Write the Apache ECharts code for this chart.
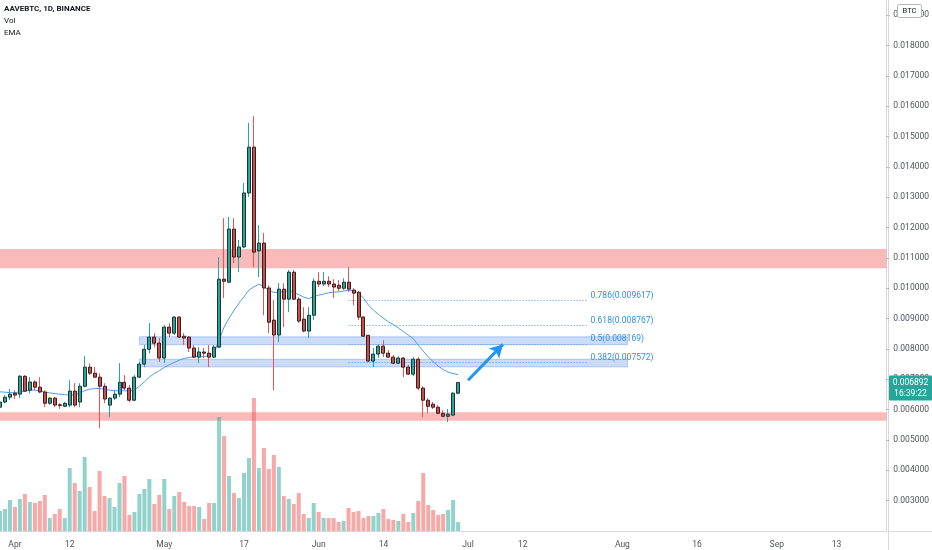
<!DOCTYPE html>
<html><head><meta charset="utf-8">
<script src="https://cdn.jsdelivr.net/npm/echarts@6/dist/echarts.min.js"></script>
<style>html,body{margin:0;padding:0;background:#fff}#c{width:932px;height:550px}</style>
</head><body><div id="c"></div>
<script>
// ---- data ----
const startDate = [2021, 2, 29];   // 2021-03-29, first day on the time axis
const dayCount = 179;               // days shown on the time axis (to 2021-09-23)
const tickDates = ['2021-04-01','2021-04-12','2021-05-01','2021-05-17','2021-06-01','2021-06-14',
                   '2021-07-01','2021-07-12','2021-08-01','2021-08-16','2021-09-01','2021-09-13'];
const monthNames = ['Jan','Feb','Mar','Apr','May','Jun','Jul','Aug','Sep','Oct','Nov','Dec'];

const openP = [0.00608,0.00625,0.00641,0.00654,0.00651,0.00710,0.00664,0.00691,0.00674,0.00658,
 0.00621,0.00638,0.00616,0.00611,0.00615,0.00661,0.00625,0.00677,0.00740,0.00720,
 0.00707,0.00677,0.00615,0.00638,0.00651,0.00690,0.00671,0.00631,0.00707,0.00750,
 0.00799,0.00839,0.00819,0.00770,0.00872,0.00852,0.00905,0.00842,0.00839,0.00803,
 0.00773,0.00790,0.00786,0.00773,0.00806,0.01030,0.01020,0.01195,0.01103,0.01136,
 0.01314,0.01465,0.01123,0.01149,0.01001,0.00895,0.00846,0.00997,0.00964,0.01053,
 0.00964,0.00898,0.00859,0.00911,0.01023,0.01014,0.01023,0.01014,0.01010,0.01000,
 0.01020,0.00994,0.00987,0.00905,0.00845,0.00760,0.00783,0.00809,0.00786,0.00773,
 0.00753,0.00770,0.00740,0.00717,0.00766,0.00671,0.00631,0.00618,0.00608,0.00588,
 0.00578,0.00582,0.00654];
const closeP = [0.00625,0.00641,0.00651,0.00648,0.00710,0.00661,0.00691,0.00674,0.00658,0.00621,
 0.00638,0.00615,0.00614,0.00621,0.00661,0.00615,0.00677,0.00740,0.00720,0.00707,
 0.00677,0.00635,0.00638,0.00651,0.00690,0.00671,0.00631,0.00707,0.00750,0.00799,
 0.00839,0.00819,0.00770,0.00872,0.00852,0.00905,0.00839,0.00836,0.00803,0.00773,
 0.00790,0.00786,0.00773,0.00806,0.01030,0.01023,0.01195,0.01103,0.01136,0.01314,
 0.01465,0.01119,0.01149,0.01001,0.00888,0.00846,0.00997,0.00964,0.01053,0.00964,
 0.00892,0.00859,0.00911,0.01023,0.01014,0.01023,0.01014,0.01004,0.01000,0.01020,
 0.00997,0.00984,0.00905,0.00842,0.00760,0.00783,0.00809,0.00786,0.00773,0.00753,
 0.00770,0.00740,0.00717,0.00766,0.00671,0.00631,0.00611,0.00608,0.00588,0.00578,
 0.00585,0.00654,0.006892];
const lowP = [0.00602,0.00621,0.00631,0.00635,0.00638,0.00658,0.00654,0.00664,0.00654,0.00608,
 0.00615,0.00608,0.00602,0.00608,0.00608,0.00608,0.00608,0.00674,0.00714,0.00704,
 0.00539,0.00621,0.00575,0.00631,0.00641,0.00664,0.00625,0.00628,0.00704,0.00740,
 0.00786,0.00806,0.00757,0.00753,0.00839,0.00846,0.00836,0.00813,0.00790,0.00770,
 0.00753,0.00770,0.00740,0.00770,0.00803,0.00968,0.01017,0.01083,0.01053,0.01132,
 0.01301,0.01070,0.01037,0.00911,0.00852,0.00664,0.00822,0.00872,0.00921,0.00961,
 0.00885,0.00855,0.00836,0.00895,0.01004,0.01007,0.01004,0.00968,0.00991,0.00994,
 0.00987,0.00944,0.00895,0.00839,0.00757,0.00740,0.00770,0.00773,0.00770,0.00750,
 0.00750,0.00707,0.00714,0.00710,0.00664,0.00575,0.00588,0.00602,0.00585,0.00575,
 0.00559,0.00578,0.00651];
const highP = [0.00631,0.00648,0.00668,0.00664,0.00714,0.00714,0.00707,0.00697,0.00707,0.00664,
 0.00641,0.00641,0.00621,0.00625,0.00697,0.00687,0.00687,0.00776,0.00753,0.00740,
 0.00720,0.00687,0.00641,0.00664,0.00753,0.00714,0.00681,0.00714,0.00757,0.00813,
 0.00885,0.00852,0.00836,0.00879,0.00885,0.00908,0.00908,0.00852,0.00842,0.00813,
 0.00806,0.00803,0.00813,0.00813,0.01103,0.01231,0.01235,0.01231,0.01159,0.01347,
 0.01545,0.01568,0.01208,0.01182,0.01010,0.00961,0.01017,0.01017,0.01060,0.01060,
 0.00971,0.00938,0.00938,0.01033,0.01053,0.01053,0.01040,0.01030,0.01027,0.01033,
 0.01070,0.01000,0.00990,0.00908,0.00846,0.00803,0.00816,0.00829,0.00796,0.00780,
 0.00776,0.00773,0.00747,0.00773,0.00773,0.00677,0.00638,0.00625,0.00615,0.00598,
 0.00602,0.00658,0.00690];
const volume = [20,22,31,24,32,37,29,28,30,36,
 13,17,22,13,63,48,40,74,44,20,
 60,35,33,24,48,55,16,19,37,42,
 52,27,36,52,22,35,39,29,25,25,
 24,12,28,28,114,95,55,38,33,58,
 73,133,63,83,62,76,64,35,32,27,
 38,17,13,28,19,13,13,13,9,10,
 23,19,20,13,15,15,18,22,12,11,
 10,17,9,18,30,58,26,21,16,17,
 21,31,9];
const emaLine = [0.006586,0.006576,0.006559,0.006559,0.006586,0.006609,0.006642,0.006642,0.006619,0.006576,
 0.006553,0.006526,0.006510,0.006493,0.006477,0.006493,0.006533,0.006625,0.006675,0.006691,
 0.006698,0.006675,0.006642,0.006625,0.006619,0.006625,0.006609,0.006642,0.006774,0.006915,
 0.007070,0.007192,0.007285,0.007390,0.007482,0.007555,0.007631,0.007687,0.007720,0.007740,
 0.007747,0.007747,0.007779,0.007880,0.008290,0.008719,0.009015,0.009279,0.009510,0.009718,
 0.009939,0.010047,0.010137,0.010047,0.009939,0.009863,0.009863,0.009889,0.009916,0.009856,
 0.009790,0.009708,0.009659,0.009724,0.009774,0.009807,0.009850,0.009873,0.009883,0.009906,
 0.009939,0.009916,0.009850,0.009675,0.009444,0.009279,0.009138,0.009015,0.008894,0.008801,
 0.008696,0.008571,0.008455,0.008340,0.008125,0.007927,0.007740,0.007581,0.007433,0.007324,
 0.007235,0.007192,0.007153];

const fibLevels = [0.786, 0.618, 0.5, 0.382];
const fibPrices = [0.009617, 0.008767, 0.008169, 0.007572];
const fibStart = '2021-06-07', fibEnd = '2021-07-25';
const redZones = [[0.01066, 0.01129], [0.00563, 0.00591]];
const blueZones = [[0.00814, 0.00840], [0.00741, 0.00766]];
const blueZoneStart = '2021-04-26', blueZoneEnd = '2021-08-02';
const arrowFrom = ['2021-07-01', 0.00697], arrowTo = ['2021-07-08', 0.00815];
const lastPrice = 0.006892;
const countdown = '16:39:22';
const titleLines = ['AAVEBTC, 1D, BINANCE', 'Vol', 'EMA'];

// ---- build ----
const dates = [];
const t0 = Date.UTC(startDate[0], startDate[1], startDate[2]);
for (let i = 0; i < dayCount; i++) dates.push(new Date(t0 + i * 86400000).toISOString().slice(0, 10));
const tickSet = new Set(tickDates);

const UP = '#26a69a', DOWN = '#ef5350';
const FONT = 'Roboto, "Noto Sans", sans-serif';

const wickData = openP.map((o, i) => [o, closeP[i], lowP[i], highP[i]]);
const bodyData = openP.map((o, i) => [o, closeP[i], Math.min(o, closeP[i]), Math.max(o, closeP[i])]);
const volData = volume.map((v, i) => ({
  value: v,
  itemStyle: { color: closeP[i] >= openP[i] ? 'rgba(38,166,154,0.5)' : 'rgba(239,83,80,0.5)' }
}));

const fibMarks = fibLevels.map((lv, i) => [
  { coord: [fibStart, fibPrices[i]],
    label: { show: true, position: 'end', formatter: lv + '(' + fibPrices[i].toFixed(6) + ')',
             color: '#2f8fe6', fontSize: 8.5, fontFamily: FONT, verticalAlign: 'bottom', distance: 3 } },
  { coord: [fibEnd, fibPrices[i]] }
]);
const arrowMark = [
  { coord: arrowFrom, symbol: 'none',
    lineStyle: { color: '#2196f3', width: 3, type: 'solid', opacity: 1 }, label: { show: false } },
  { coord: arrowTo, symbol: 'arrow', symbolSize: [11, 13] }
];

const areaMarks = redZones.map(z => [
  { yAxis: z[0], itemStyle: { color: 'rgba(245,90,90,0.42)' } }, { yAxis: z[1] }
]).concat(blueZones.map(z => [
  { coord: [blueZoneStart, z[0]], itemStyle: { color: 'rgba(100,150,230,0.33)', borderColor: 'rgba(100,150,230,0.45)', borderWidth: 1 } },
  { coord: [blueZoneEnd, z[1]] }
]));

const chart = echarts.init(document.getElementById('c'), null, { renderer: 'canvas' });
chart.setOption({
  animation: false,
  backgroundColor: '#ffffff',
  grid: { left: 0, right: 44, top: 0, bottom: 19 },
  xAxis: {
    type: 'category', data: dates, boundaryGap: false,
    axisLine: { show: true, lineStyle: { color: '#d6d8de' } },
    axisTick: { show: false },
    splitLine: { show: false },
    axisLabel: {
      interval: (idx, val) => tickSet.has(val),
      formatter: v => { const d = +v.slice(8, 10); return d === 1 ? monthNames[+v.slice(5, 7) - 1] : String(d); },
      color: '#50535e', fontSize: 8.5, fontFamily: FONT, margin: 9
    }
  },
  yAxis: [{
    type: 'value', position: 'right', min: 0.002, max: 0.0195, interval: 0.001, scale: true,
    axisLine: { show: true, lineStyle: { color: '#d6d8de' } },
    axisTick: { show: true, length: 3, lineStyle: { color: '#b2b5be' } },
    splitLine: { show: false },
    axisLabel: { formatter: v => v.toFixed(6), color: '#50535e', fontSize: 8.5, fontFamily: FONT,
                 margin: 7, showMinLabel: false, showMaxLabel: false }
  }, {
    type: 'value', min: 0, max: 531, show: false
  }],
  series: [
    { name: 'Vol', type: 'bar', xAxisIndex: 0, yAxisIndex: 1, data: volData, barWidth: 4, z: 1, silent: true },
    { name: 'EMA', type: 'line', data: emaLine, symbol: 'none', smooth: false, z: 3,
      lineStyle: { color: '#4f9be5', width: 1 },
      markArea: { silent: true, data: areaMarks },
      markLine: { silent: true, symbol: ['none', 'none'], precision: 6,
        lineStyle: { color: '#4f9be5', width: 1, type: [1, 2] },
        data: fibMarks.concat([arrowMark]) } },
    { name: 'wick', type: 'candlestick', data: wickData, barWidth: 1, z: 4, silent: true,
      itemStyle: { color: UP, color0: DOWN, borderColor: UP, borderColor0: DOWN, borderWidth: 1 } },
    { name: 'AAVEBTC', type: 'candlestick', data: bodyData, barWidth: 3.5, z: 5, silent: true,
      itemStyle: { color: '#26a69a', color0: '#c8504c', borderColor: '#233331', borderColor0: '#3b1e1e', borderWidth: 1 } }
  ],
  graphic: [
    { type: 'text', left: 4, top: 5, style: { text: titleLines[0], font: 'bold 8px ' + FONT, fill: '#131722' } },
    { type: 'text', left: 4, top: 17, style: { text: titleLines[1], font: '8px ' + FONT, fill: '#131722' } },
    { type: 'text', left: 4, top: 29, style: { text: titleLines[2], font: '8px ' + FONT, fill: '#131722' } },
    { type: 'line', shape: { x1: 888.5, y1: 0, x2: 888.5, y2: 550 }, style: { stroke: '#d6d8de', lineWidth: 1 }, silent: true },
    { type: 'line', shape: { x1: 888, y1: 531.5, x2: 932, y2: 531.5 }, style: { stroke: '#d6d8de', lineWidth: 1 }, silent: true },
    { type: 'rect', shape: { x: 897.5, y: 4.5, width: 24, height: 13, r: 2 }, style: { fill: '#fff', stroke: '#b2b5be', lineWidth: 1 }, z: 100 },
    { type: 'text', x: 909.5, y: 11, style: { text: 'BTC', font: '7.5px ' + FONT, fill: '#131722', align: 'center', verticalAlign: 'middle' }, z: 101 }
  ]
});

const py = chart.convertToPixel({ yAxisIndex: 0 }, lastPrice);
chart.setOption({
  graphic: [
    { id: 'tagRect', type: 'rect', shape: { x: 889, y: py - 7, width: 43, height: 25, r: 1 }, style: { fill: '#26a69a' }, z: 100 },
    { id: 'tagPrice', type: 'text', x: 910.5, y: py, style: { text: lastPrice.toFixed(6), font: '8.5px ' + FONT, fill: '#ffffff', align: 'center', verticalAlign: 'middle' }, z: 101 },
    { id: 'tagTime', type: 'text', x: 910.5, y: py + 11.5, style: { text: countdown, font: '8.5px ' + FONT, fill: '#ffffff', align: 'center', verticalAlign: 'middle' }, z: 101 }
  ]
});
</script>
</body></html>
